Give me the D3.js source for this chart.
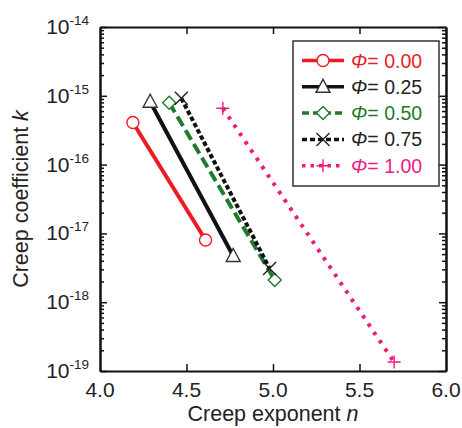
<!DOCTYPE html>
<html>
<head>
<meta charset="utf-8">
<script src="https://cdn.jsdelivr.net/npm/d3@7"></script>
<style>
  html, body { margin: 0; padding: 0; background: #fff; }
  svg { display: block; font-family: Arial, "Liberation Sans", sans-serif; }
</style>
</head>
<body>
<svg id="chart" width="462" height="428"></svg>
<script>
// Creep coefficient k versus creep exponent n for each Φ
const phiLabels = ["0.00", "0.25", "0.50", "0.75", "1.00"];
const nValues = [
  [4.19, 4.61],
  [4.29, 4.77],
  [4.40, 5.01],
  [4.47, 4.98],
  [4.71, 5.70]
];
const kValues = [
  [4.1e-16, 8.0e-18],
  [8.2e-16, 4.7e-18],
  [7.9e-16, 2.1e-18],
  [9.2e-16, 3.1e-18],
  [6.6e-16, 1.35e-19]
];
const xTicks = [4.0, 4.5, 5.0, 5.5, 6.0];
const yTickExponents = [-14, -15, -16, -17, -18, -19];

const colors = ["#ec1c24", "#111111", "#1f7a2c", "#111111", "#ee1a80"];
const textColors = ["#ec1c24", "#222222", "#1f7a2c", "#222222", "#ee1a80"];
const dashes = [null, null, "11,5", "4.5,2.5", "3.5,6.5"];
const markerKinds = ["circle", "triangle", "diamond", "cross", "plus"];

const svg = d3.select("#chart");
const plotL = 100, plotR = 446, plotT = 27, plotB = 371;

const x = d3.scaleLinear().domain([4, 6]).range([plotL, plotR]);
const y = d3.scaleLog().domain([1e-19, 1e-14]).range([plotB, plotT]);

const majorY = yTickExponents.map(e => Math.pow(10, e));
const minorY = [];
for (let e = -19; e < -14; e++) {
  for (let m = 2; m <= 9; m++) minorY.push(m * Math.pow(10, e));
}
const innerX = xTicks.slice(1, -1);

function styleAxis(g) {
  g.selectAll("path.domain").attr("stroke", "#111").attr("stroke-width", 2);
  g.selectAll(".tick line").attr("stroke", "#111").attr("stroke-width", 1.5);
}

// bottom axis
svg.append("g").attr("transform", `translate(0,${plotB})`)
  .call(d3.axisBottom(x).tickValues(innerX).tickSize(-7).tickSizeOuter(0).tickFormat(""))
  .call(styleAxis);
// top axis (mirror ticks)
svg.append("g").attr("transform", `translate(0,${plotT})`)
  .call(d3.axisTop(x).tickValues(innerX).tickSize(-7).tickSizeOuter(0).tickFormat(""))
  .call(styleAxis);
// left axis major + minor
svg.append("g").attr("transform", `translate(${plotL},0)`)
  .call(d3.axisLeft(y).tickValues(majorY).tickSize(-7).tickSizeOuter(0).tickFormat(""))
  .call(styleAxis);
svg.append("g").attr("transform", `translate(${plotL},0)`)
  .call(d3.axisLeft(y).tickValues(minorY).tickSize(-4).tickSizeOuter(0).tickFormat(""))
  .call(styleAxis);
// right axis major + minor
svg.append("g").attr("transform", `translate(${plotR},0)`)
  .call(d3.axisRight(y).tickValues(majorY).tickSize(-7).tickSizeOuter(0).tickFormat(""))
  .call(styleAxis);
svg.append("g").attr("transform", `translate(${plotR},0)`)
  .call(d3.axisRight(y).tickValues(minorY).tickSize(-4).tickSizeOuter(0).tickFormat(""))
  .call(styleAxis);

// x tick labels
svg.append("g").selectAll("text").data(xTicks).join("text")
  .attr("x", d => x(d)).attr("y", plotB + 26)
  .attr("text-anchor", "middle").attr("font-size", 21).attr("fill", "#222")
  .text(d => d.toFixed(1));

// y tick labels: 10 with superscript exponent
const yl = svg.append("g").selectAll("text").data(yTickExponents).join("text")
  .attr("x", plotL - 11).attr("y", d => y(Math.pow(10, d)) + 7)
  .attr("text-anchor", "end").attr("fill", "#222");
yl.append("tspan").attr("font-size", 21).text("10");
yl.append("tspan").attr("font-size", 13.5).attr("dy", -9).text(d => String(d));

// axis titles
const xt = svg.append("text").attr("x", (plotL + plotR) / 2).attr("y", 421)
  .attr("text-anchor", "middle").attr("font-size", 21.5).attr("fill", "#222");
xt.append("tspan").text("Creep exponent ");
xt.append("tspan").attr("font-style", "italic").text("n");

const yt = svg.append("text")
  .attr("transform", `translate(28,${(plotT + plotB) / 2}) rotate(-90)`)
  .attr("text-anchor", "middle").attr("font-size", 21.5).attr("fill", "#222");
yt.append("tspan").text("Creep coefficient ");
yt.append("tspan").attr("font-style", "italic").text("k");

// marker drawing
function drawMarker(g, kind, cx, cy, color) {
  const s = 6.5;
  if (kind === "circle") {
    g.append("circle").attr("cx", cx).attr("cy", cy).attr("r", 6)
      .attr("fill", "#fff").attr("stroke", color).attr("stroke-width", 1.4);
  } else if (kind === "triangle") {
    g.append("path")
      .attr("d", `M${cx},${cy - s - 1}L${cx + s + 0.5},${cy + s - 1}L${cx - s - 0.5},${cy + s - 1}Z`)
      .attr("fill", "#fff").attr("stroke", "#333").attr("stroke-width", 1.4);
  } else if (kind === "diamond") {
    g.append("path")
      .attr("d", `M${cx},${cy - s}L${cx + s},${cy}L${cx},${cy + s}L${cx - s},${cy}Z`)
      .attr("fill", "#fff").attr("stroke", color).attr("stroke-width", 1.4);
  } else if (kind === "cross") {
    g.append("path")
      .attr("d", `M${cx - s},${cy - s}L${cx + s},${cy + s}M${cx - s},${cy + s}L${cx + s},${cy - s}`)
      .attr("stroke", "#222").attr("stroke-width", 1.4);
  } else if (kind === "plus") {
    g.append("path")
      .attr("d", `M${cx - s},${cy}L${cx + s},${cy}M${cx},${cy - s}L${cx},${cy + s}`)
      .attr("stroke", color).attr("stroke-width", 1.4);
  }
}

// series lines and markers
const line = d3.line().x(d => x(d[0])).y(d => y(d[1]));
phiLabels.forEach((lab, i) => {
  const pts = nValues[i].map((n, j) => [n, kValues[i][j]]);
  const g = svg.append("g");
  g.append("path").attr("d", line(pts))
    .attr("fill", "none").attr("stroke", colors[i]).attr("stroke-width", 4)
    .attr("stroke-dasharray", dashes[i]);
  pts.forEach(p => drawMarker(g, markerKinds[i], x(p[0]), y(p[1]), colors[i]));
});

// legend
const lg = svg.append("g");
lg.append("rect").attr("x", 293).attr("y", 41).attr("width", 146).attr("height", 145)
  .attr("fill", "#fff").attr("stroke", "#333").attr("stroke-width", 1.5);
const legendDashes = [null, null, "7,4", "5,3", "3.5,5"];
phiLabels.forEach((lab, i) => {
  const ry = 60.5 + i * 26.3;
  lg.append("line").attr("x1", 302).attr("x2", 344).attr("y1", ry).attr("y2", ry)
    .attr("stroke", colors[i]).attr("stroke-width", 3.5)
    .attr("stroke-dasharray", legendDashes[i]);
  drawMarker(lg, markerKinds[i], 323, ry, colors[i]);
  const t = lg.append("text").attr("x", 351).attr("y", ry + 7)
    .attr("font-size", 19.5).attr("fill", textColors[i]);
  t.append("tspan").attr("font-style", "italic").text("Φ");
  t.append("tspan").text("= " + lab);
});
</script>
</body>
</html>
